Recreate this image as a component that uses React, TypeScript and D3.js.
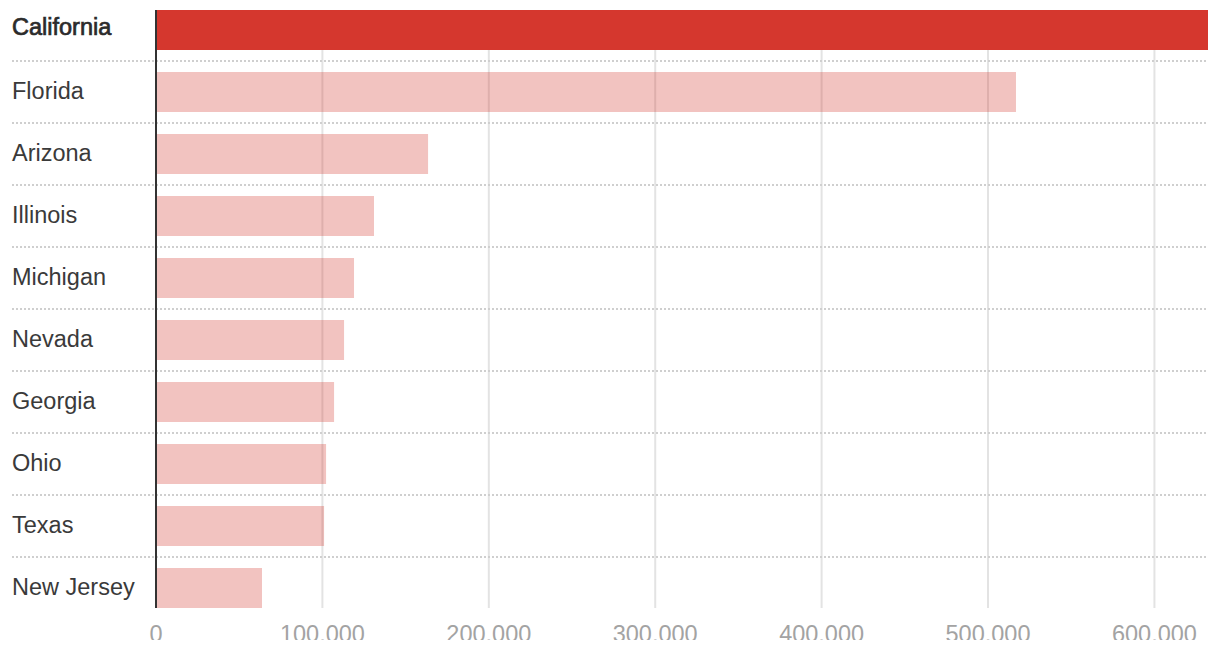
import React from "react";
import * as d3 from "d3";

const states = ["California", "Florida", "Arizona", "Illinois", "Michigan", "Nevada", "Georgia", "Ohio", "Texas", "New Jersey"];
const values = [632200, 516800, 163500, 131000, 119000, 113000, 107000, 102200, 101000, 63700];
const highlight = "California";
const tickValues = [0, 100000, 200000, 300000, 400000, 500000, 600000];

const W = 1220;
const H = 640;
const FONT = "'Liberation Sans', Arial, Helvetica, sans-serif";

export default function App() {
  const x = d3.scaleLinear().domain([0, d3.max(values) as number]).range([156, 1208]);
  const y = d3
    .scaleBand<string>()
    .domain(states)
    .range([-1, 619])
    .paddingInner(22 / 62)
    .paddingOuter(11 / 62);
  const bw = y.bandwidth();
  const top = y(states[0]) as number;
  const bottom = (y(states[states.length - 1]) as number) + bw;
  const fmt = d3.format(",");
  const red = "#d5372e";

  return (
    <svg
      width={W}
      height={H}
      style={{ position: "absolute", left: 0, top: 0, display: "block", overflow: "hidden", background: "#fff" }}
    >
      {tickValues.slice(1).map((t) => (
        <line key={"g" + t} x1={x(t)} x2={x(t)} y1={top} y2={bottom} stroke="#e3e3e3" strokeWidth={2} />
      ))}
      {states.slice(0, -1).map((s) => {
        const yy = (y(s) as number) + bw + 11;
        return (
          <line key={"s" + s} x1={12} x2={1208} y1={yy} y2={yy} stroke="#cfcfcf" strokeWidth={2} strokeDasharray="2,2" />
        );
      })}
      {states.map((s, i) => (
        <rect
          key={"b" + s}
          x={x(0)}
          y={y(s) as number}
          width={x(values[i]) - x(0)}
          height={bw}
          fill={red}
          fillOpacity={s === highlight ? 1 : 0.3}
        />
      ))}
      <line x1={x(0)} x2={x(0)} y1={top} y2={bottom} stroke="#333" strokeWidth={2} />
      {states.map((s) => {
        const cy = (y(s) as number) + bw / 2;
        const isH = s === highlight;
        return (
          <text
            key={"l" + s}
            x={12}
            y={cy + (isH ? 4.5 : 7)}
            fontFamily={FONT}
            fontSize={23.5}
            fill={isH ? "#2b2b2b" : "#3a3a3a"}
            stroke={isH ? "#2b2b2b" : "none"}
            strokeWidth={isH ? 0.7 : 0}
          >
            {s}
          </text>
        );
      })}
      {tickValues.map((t) => (
        <text
          key={"t" + t}
          x={x(t)}
          y={642}
          textAnchor="middle"
          fontFamily={FONT}
          fontSize={23.5}
          fill="#a3a3a3"
        >
          {fmt(t)}
        </text>
      ))}
    </svg>
  );
}
